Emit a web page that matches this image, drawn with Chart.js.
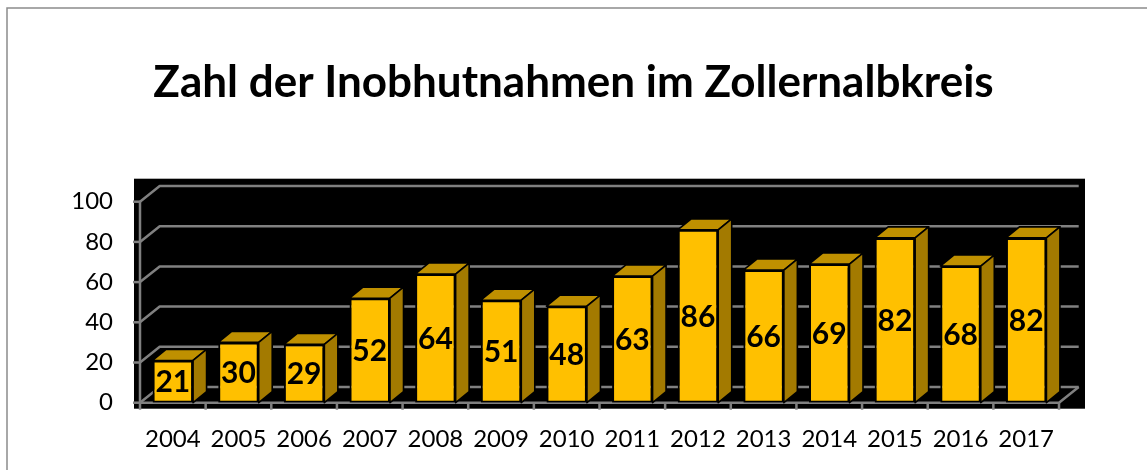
<!DOCTYPE html>
<html>
<head>
<meta charset="utf-8">
<script src="https://cdn.jsdelivr.net/npm/chart.js@4.4.0/dist/chart.umd.min.js"></script>
<style>
  html, body { margin: 0; padding: 0; background: #fff; }
</style>
</head>
<body>
<canvas id="myChart" width="1147" height="470"></canvas>
<script>
const years = ['2004', '2005', '2006', '2007', '2008', '2009', '2010',
               '2011', '2012', '2013', '2014', '2015', '2016', '2017'];
const cases = [21, 30, 29, 52, 64, 51, 48, 63, 86, 66, 69, 82, 68, 82];
const yTicks = [0, 20, 40, 60, 80, 100];
const titleText = 'Zahl der Inobhutnahmen im Zollernalbkreis';

// 3d look: wall depth and bar depth offsets
const wall = { dx: 19.7, dy: -15.7 };
const box = { dx: 13.5, dy: -11 };
const gridGray = '#808080';
const labelFont = 'bold 30px Lato';

const look3d = {
  id: 'look3d',
  beforeDraw(chart) {
    const ctx = chart.ctx;
    ctx.save();
    ctx.strokeStyle = '#8c8c8c';
    ctx.lineWidth = 1.5;
    ctx.beginPath();
    ctx.moveTo(7, 470);
    ctx.lineTo(7, 8);
    ctx.lineTo(1147, 8);
    ctx.stroke();
    ctx.restore();
  },
  beforeDatasetsDraw(chart) {
    const { ctx, chartArea: a, scales: { y } } = chart;
    const base = y.getPixelForValue(0);
    ctx.save();
    // black walls
    ctx.fillStyle = '#000';
    ctx.fillRect(a.left - 6, a.top - 23, a.right - a.left + 32, a.bottom - a.top + 29);

    ctx.strokeStyle = gridGray;
    ctx.lineWidth = 2.5;
    ctx.lineJoin = 'round';
    // gridlines on side + back wall
    yTicks.forEach(v => {
      const yy = y.getPixelForValue(v);
      ctx.beginPath();
      ctx.moveTo(a.left, yy);
      ctx.lineTo(a.left + wall.dx, yy + wall.dy);
      ctx.lineTo(a.right + wall.dx, yy + wall.dy);
      ctx.stroke();
      // tick mark
      ctx.beginPath();
      ctx.moveTo(a.left - 7, yy);
      ctx.lineTo(a.left, yy);
      ctx.stroke();
    });
    // floor front edge
    ctx.beginPath();
    ctx.moveTo(a.left, base);
    ctx.lineTo(a.right, base);
    ctx.lineTo(a.right + wall.dx, base + wall.dy);
    ctx.stroke();
    // value axis
    ctx.beginPath();
    ctx.moveTo(a.left, a.top);
    ctx.lineTo(a.left, base);
    ctx.stroke();
    // category ticks
    const step = (a.right - a.left) / years.length;
    for (let i = 0; i <= years.length; i++) {
      const xx = a.left + i * step;
      ctx.beginPath();
      ctx.moveTo(xx, base);
      ctx.lineTo(xx, base + 7);
      ctx.stroke();
    }
    ctx.restore();
  },
  afterDatasetsDraw(chart) {
    const ctx = chart.ctx;
    const meta = chart.getDatasetMeta(0);
    ctx.save();
    ctx.lineWidth = 1.6;
    ctx.strokeStyle = '#000';
    ctx.lineJoin = 'round';
    meta.data.forEach((bar, i) => {
      const l = bar.x - bar.width / 2, r = bar.x + bar.width / 2;
      const t = bar.y, b = bar.base;
      // top face
      ctx.fillStyle = '#BF9000';
      ctx.beginPath();
      ctx.moveTo(l, t);
      ctx.lineTo(l + box.dx, t + box.dy);
      ctx.lineTo(r + box.dx, t + box.dy);
      ctx.lineTo(r, t);
      ctx.closePath();
      ctx.fill();
      ctx.stroke();
      // side face
      ctx.fillStyle = '#A37A00';
      ctx.beginPath();
      ctx.moveTo(r, t);
      ctx.lineTo(r + box.dx, t + box.dy);
      ctx.lineTo(r + box.dx, b + box.dy);
      ctx.lineTo(r, b);
      ctx.closePath();
      ctx.fill();
      ctx.stroke();
      // value label
      ctx.fillStyle = '#000';
      ctx.font = labelFont;
      ctx.textAlign = 'center';
      ctx.textBaseline = 'alphabetic';
      ctx.fillText(String(cases[i]), bar.x, (t + b) / 2 + 10.5);
    });
    ctx.restore();
  }
};

const data = {
  labels: years,
  datasets: [{
    data: cases,
    backgroundColor: '#FFC000',
    borderColor: '#000',
    borderWidth: 2,
    borderSkipped: false,
    barPercentage: 0.617,
    categoryPercentage: 1
  }]
};

const config = {
  type: 'bar',
  data,
  options: {
    responsive: false,
    animation: false,
    layout: { padding: 0 },
    plugins: {
      legend: { display: false },
      tooltip: { enabled: false },
      title: {
        display: true,
        text: titleText,
        color: '#000',
        font: { family: 'Lato', size: 44, weight: 'bold' },
        padding: { top: 56.2, bottom: 92.7 }
      }
    },
    scales: {
      x: {
        grid: { display: false },
        border: { display: false },
        ticks: { color: '#000', font: { family: 'Lato', size: 24 }, padding: 14, maxRotation: 0 },
        afterFit(s) { s.height = 67.3; }
      },
      y: {
        min: yTicks[0],
        max: yTicks[yTicks.length - 1],
        grid: { display: false },
        border: { display: false },
        ticks: { stepSize: 20, color: '#000', font: { family: 'Lato', size: 24 }, padding: 19 },
        afterFit(s) { s.width = 140; }
      },
      // empty right axis, only reserves room for the 3d depth
      yRight: {
        position: 'right',
        grid: { display: false },
        border: { display: false },
        ticks: { display: false },
        afterFit(s) { s.width = 88; }
      }
    }
  },
  plugins: [look3d]
};

// wait for the local fonts so the title is measured with Lato
Promise.all([
  document.fonts.load('bold 44px Lato'),
  document.fonts.load('24px Lato'),
  document.fonts.load(labelFont)
]).catch(() => {}).then(() => {
  const myChart = new Chart(document.getElementById('myChart'), config);
});
</script>
</body>
</html>
